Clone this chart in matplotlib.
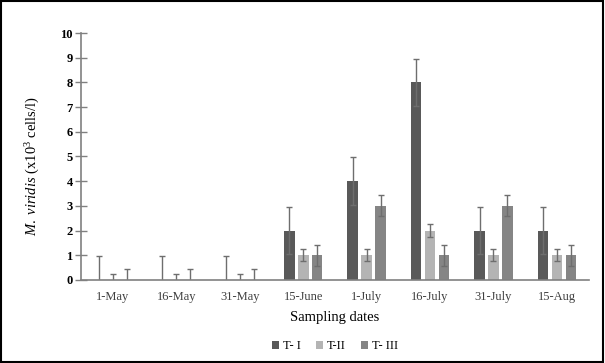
import numpy as np
import matplotlib
matplotlib.use("Agg")
import matplotlib.pyplot as plt
from matplotlib.patches import Rectangle

dates = ["1-May", "16-May", "31-May", "15-June", "1-July", "16-July", "31-July", "15-Aug"]
series_names = ["T- I", "T-II", "T- III"]

t1 = [0, 0, 0, 2, 4, 8, 2, 2]
t2 = [0, 0, 0, 1, 1, 2, 1, 1]
t3 = [0, 0, 0, 1, 3, 1, 3, 1]

t1_err = [0.95, 0.95, 0.95, 0.95, 0.97, 0.95, 0.95, 0.95]
t2_err = [0.25, 0.25, 0.25, 0.25, 0.25, 0.25, 0.25, 0.25]
t3_err = [0.45, 0.45, 0.45, 0.43, 0.43, 0.43, 0.43, 0.43]

colors = ["#595959", "#b4b4b4", "#858585"]

plt.rcParams['font.family'] = ['Liberation Serif', 'DejaVu Serif']
plt.rcParams['mathtext.fontset'] = 'custom'
plt.rcParams['mathtext.rm'] = 'Liberation Serif'
plt.rcParams['mathtext.it'] = 'Liberation Serif:italic'

fig = plt.figure(figsize=(6.05, 3.63), dpi=100)
ax = fig.add_axes([0.134, 0.229, 0.839, 0.680])

x = np.arange(len(dates))
width = 0.17
offset = 0.22

for i, (vals, errs) in enumerate([(t1, t1_err), (t2, t2_err), (t3, t3_err)]):
    ax.bar(x + (i - 1) * offset, vals, width, color=colors[i], label=series_names[i],
           yerr=errs, error_kw=dict(ecolor="#6e6e6e", elinewidth=1.0, capsize=2.5, capthick=1.0),
           zorder=2)

ax.set_xlim(-0.5, 7.5)
ax.set_ylim(0, 10)
ax.set_yticks(range(0, 11))
ax.set_xticks(x)
ax.set_xticklabels(dates, color="#404040", fontsize=9)
for lab in ax.get_yticklabels():
    lab.set_fontweight("bold")
    lab.set_fontsize(9)

for s in ["top", "right"]:
    ax.spines[s].set_visible(False)
for s in ["left", "bottom"]:
    ax.spines[s].set_color("#808080")
    ax.spines[s].set_linewidth(1.2)
ax.tick_params(axis="y", direction="inout", length=8, width=1.0, color="#808080", pad=2)
ax.tick_params(axis="x", length=0, pad=8)

ax.set_ylabel(r"$\it{M.\ viridis}$ (x10$^3$ cells/l)", fontsize=10.5)
ax.yaxis.set_label_coords(-0.077, 0.46)
ax.set_xlabel("Sampling dates", fontsize=10.5, labelpad=6)

ax.legend(loc="upper center", bbox_to_anchor=(0.5, -0.2), ncol=3, frameon=False,
          fontsize=9, handlelength=0.6, handleheight=0.6, handletextpad=0.3,
          columnspacing=1.2)

fig.patches.append(Rectangle((0.002, 0.003), 0.995, 0.993, transform=fig.transFigure,
                             fill=False, edgecolor="black", linewidth=1.5))

fig.savefig("out.png", dpi=100)
